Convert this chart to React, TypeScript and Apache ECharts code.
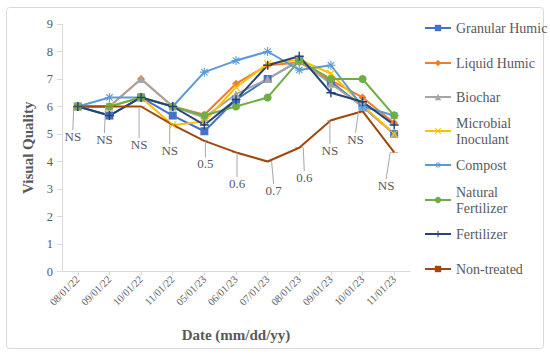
import React, { useEffect, useRef } from "react";
import * as echarts from "echarts";

const categories = ["08/01/22", "09/01/22", "10/01/22", "11/01/22", "05/01/23", "06/01/23", "07/01/23", "08/01/23", "09/01/23", "10/01/23", "11/01/23"];

const granularHumic = [6, 5.67, 6.33, 5.67, 5.1, 6.25, 7.0, 7.67, 6.9, 6.0, 5.0];
const liquidHumic = [6, 6, 7, 6, 5.7, 6.83, 7.5, 7.6, 6.95, 6.33, 5.4];
const biochar = [6, 6, 7, 6, 5.6, 6.45, 7.0, 7.67, 6.83, 6.0, 5.0];
const microbialInoculant = [6, 6, 6.33, 5.33, 5.45, 6.7, 7.55, 7.7, 7.2, 6.05, 5.0];
const compost = [6, 6.33, 6.33, 6, 7.25, 7.67, 8.0, 7.33, 7.5, 6.0, 5.67];
const naturalFertilizer = [6, 6, 6.33, 6, 5.67, 6.0, 6.33, 7.67, 7.0, 7.0, 5.67];
const fertilizer = [6, 5.67, 6.33, 6, 5.33, 6.25, 7.5, 7.83, 6.5, 6.17, 5.33];
const nonTreated = [6, 6, 6, 5.33, 4.75, 4.33, 4.0, 4.5, 5.5, 5.83, 4.33];
const nonTreatedLabels = ["NS", "NS", "NS", "NS", "0.5", "0.6", "0.7", "0.6", "NS", "NS", "NS"];

// layout only: label offsets (dx, dy) relative to point
const labelOffsets = [[-5, 30], [-5, 33], [-2, 38], [-3, 26], [1, 23], [1, 31], [6, 29], [5, 30], [-1, 30], [-7, 28], [-8, 33]];
const legendCenters = [28, 63, 97, 131, 165, 200, 234, 269];

const FONT = "Liberation Serif";
const TXT = "#595959";

const X_PATH = "path://M1,0 L5,4 L9,0 L10,1 L6,5 L10,9 L9,10 L5,6 L1,10 L0,9 L4,5 L0,1 Z";
const PLUS_PATH = "path://M4.2,0 H5.8 V4.2 H10 V5.8 H5.8 V10 H4.2 V5.8 H0 V4.2 H4.2 Z";
const STAR_PATH = "path://M4.4,0 H5.6 V3.5 L8.1,1 L9,1.9 L6.5,4.4 H10 V5.6 H6.5 L9,8.1 L8.1,9 L5.6,6.5 V10 H4.4 V6.5 L1.9,9 L1,8.1 L3.5,5.6 H0 V4.4 H3.5 L1,1.9 L1.9,1 L4.4,3.5 Z";
const DASH_PATH = "path://M0,0 H10 V2 H0 Z";

const seriesDefs = [
  { name: "Granular Humic", data: granularHumic, color: "#4472C4", symbol: "rect", size: 8 as any },
  { name: "Liquid Humic", data: liquidHumic, color: "#ED7D31", symbol: "diamond", size: 8 as any },
  { name: "Biochar", data: biochar, color: "#A5A5A5", symbol: "triangle", size: 8 as any },
  { name: "Microbial Inoculant", data: microbialInoculant, color: "#FFC000", symbol: X_PATH, size: 8 as any },
  { name: "Compost", data: compost, color: "#5B9BD5", symbol: STAR_PATH, size: 9 as any },
  { name: "Natural Fertilizer", data: naturalFertilizer, color: "#70AD47", symbol: "circle", size: 8 as any },
  { name: "Fertilizer", data: fertilizer, color: "#264478", symbol: PLUS_PATH, size: 9 as any },
  { name: "Non-treated", data: nonTreated, color: "#9E480E", symbol: DASH_PATH, size: [8, 2] as any },
];

const twoLine: Record<string, string> = {
  "Microbial Inoculant": "Microbial\nInoculant",
  "Natural Fertilizer": "Natural\nFertilizer",
};

export default function App() {
  const ref = useRef<HTMLDivElement>(null);
  useEffect(() => {
    if (!ref.current) return;
    const chart = echarts.init(ref.current, null, { renderer: "svg" });
    const LH = 16;
    const legends = seriesDefs.map((s, i) => {
      const multi = !!twoLine[s.name];
      return {
        orient: "vertical",
        left: 424,
        top: legendCenters[i] - (multi ? LH * 1.5 : LH / 2),
        padding: 0,
        itemWidth: 26,
        itemHeight: 8,
        itemGap: 0,
        data: [s.name],
        formatter: (n: string) => twoLine[n] || n,
        textStyle: {
          fontFamily: FONT,
          fontSize: 14,
          color: TXT,
          lineHeight: LH,
          padding: multi ? [LH, 0, 0, 0] : 0,
        },
      };
    });
    const series = seriesDefs.map((s) => {
      const base: any = {
        name: s.name,
        type: "line",
        data: s.data,
        symbol: s.symbol,
        symbolSize: s.size,
        symbolKeepAspect: true,
        color: s.color,
        lineStyle: { width: 2, color: s.color },
        itemStyle: { color: s.color },
      };
      if (s.name === "Non-treated") {
        base.label = {
          show: true,
          position: "inside",
          formatter: (p: any) => nonTreatedLabels[p.dataIndex],
          fontFamily: FONT,
          fontSize: 13,
          color: TXT,
        };
        base.labelLayout = (p: any) => ({ dx: labelOffsets[p.dataIndex][0], dy: labelOffsets[p.dataIndex][1] });
        base.labelLine = { show: true, lineStyle: { color: "#a6a6a6", width: 1 } };
      }
      return base;
    });
    chart.setOption({
      animation: false,
      backgroundColor: "#ffffff",
      textStyle: { fontFamily: FONT },
      graphic: [
        {
          type: "rect",
          shape: { x: 6.5, y: 7.5, width: 537, height: 341, r: 3 },
          style: { fill: "none", stroke: "#d9d9d9", lineWidth: 1 },
          z: -10,
        },
      ],
      grid: { left: 62, right: 140, top: 24, bottom: 83.5, containLabel: false },
      legend: legends,
      xAxis: {
        type: "category",
        data: categories,
        boundaryGap: true,
        axisLine: { lineStyle: { color: "#d9d9d9", width: 1 } },
        axisTick: { show: true, alignWithLabel: true, length: 4, lineStyle: { color: "#d9d9d9" } },
        axisLabel: { rotate: 45, fontFamily: FONT, fontSize: 10.5, color: TXT, margin: 6, interval: 0 },
        name: "Date (mm/dd/yy)",
        nameLocation: "middle",
        nameGap: 56,
        nameTextStyle: { fontFamily: FONT, fontSize: 15, fontWeight: "bold", color: TXT },
        splitLine: { show: false },
      },
      yAxis: {
        type: "value",
        min: 0,
        max: 9,
        interval: 1,
        axisLine: { show: true, lineStyle: { color: "#d9d9d9", width: 1 } },
        axisTick: { show: true, length: 5, lineStyle: { color: "#d9d9d9" } },
        axisLabel: { fontFamily: FONT, fontSize: 12.5, color: TXT, margin: 9 },
        splitLine: { show: false },
        name: "Visual Quality",
        nameLocation: "middle",
        nameGap: 14,
        nameTextStyle: { fontFamily: FONT, fontSize: 15, fontWeight: "bold", color: TXT },
      },
      series,
    });
    return () => chart.dispose();
  }, []);
  return (
    <div
      ref={ref}
      style={{ position: "absolute", left: 0, top: 0, width: 550, height: 355, background: "#fff" }}
    />
  );
}
